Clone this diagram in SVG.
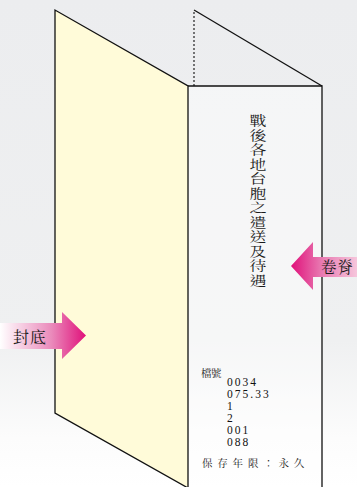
<svg xmlns="http://www.w3.org/2000/svg" width="357" height="487" viewBox="0 0 357 487">
  <defs>
    <linearGradient id="bg" x1="0" y1="0" x2="0" y2="1">
      <stop offset="0" stop-color="#ecedef"/>
      <stop offset="0.7" stop-color="#eff0f1"/>
      <stop offset="0.9" stop-color="#fcfcfc"/>
      <stop offset="1" stop-color="#ffffff"/>
    </linearGradient>
    <linearGradient id="gradLeft" gradientUnits="userSpaceOnUse" x1="0" y1="0" x2="86" y2="0">
      <stop offset="0" stop-color="#ffffff"/>
      <stop offset="0.6" stop-color="#ea8abb"/>
      <stop offset="1" stop-color="#e0107a"/>
    </linearGradient>
    <linearGradient id="gradRight" gradientUnits="userSpaceOnUse" x1="291" y1="0" x2="357" y2="0">
      <stop offset="0" stop-color="#e0107a"/>
      <stop offset="0.45" stop-color="#e877b0"/>
      <stop offset="1" stop-color="#f6c6dc"/>
    </linearGradient>
    <style>
      .edge { fill: none; stroke: #111; stroke-width: 1.3; stroke-linejoin: miter; }
      .dot { fill: none; stroke: #222; stroke-width: 1.2; stroke-dasharray: 2 2; }
      .cjk { font-family: "Noto Serif CJK TC", "Noto Sans CJK TC", serif; fill: #1a1a1a; }
      .num { font-family: "Liberation Serif", serif; font-size: 11.5px; letter-spacing: 2px; fill: #111; }
    </style>
  </defs>

  <rect x="0" y="0" width="357" height="487" fill="url(#bg)"/>

  <g id="spine">
    <polyline class="dot" points="194,86 194,10"/>
    <line class="edge" x1="194" y1="10" x2="322" y2="86"/>
    <rect x="188" y="86" width="134" height="405" fill="#ffffff" fill-opacity="0.45"/>
    <polyline class="edge" points="188,86 322,86 322,488"/>
    <text class="cjk" x="258" y="114" font-size="13" letter-spacing="1.5" writing-mode="vertical-rl" transform="translate(258,0) scale(1.3,1) translate(-258,0)">戰後各地台胞之遣送及待遇</text>
    <text class="cjk" x="201" y="377" font-size="10.5" letter-spacing="-0.5">檔號</text>
    <text class="num" x="227" y="386">0034</text>
    <text class="num" x="227" y="397.5">075.33</text>
    <text class="num" x="227" y="410">1</text>
    <text class="num" x="227" y="422">2</text>
    <text class="num" x="227" y="434">001</text>
    <text class="num" x="227" y="446">088</text>
    <text class="cjk" x="202" y="467" font-size="10.5" letter-spacing="4.8">保存年限：永久</text>
  </g>

  <g id="back-cover">
    <polygon points="55,10 188,86 188,488 187,487 55,413" fill="#fffbd9"/>
    <polyline class="edge" points="188,488 55,413 55,10 188,86 188,488"/>
  </g>

  <g id="label-back-cover">
    <polygon points="0,323 62,323 62,312 86,335.5 62,359 62,349 0,349" fill="url(#gradLeft)"/>
    <text class="cjk" x="13" y="343" font-size="16" letter-spacing="1">封底</text>
  </g>

  <g id="label-spine">
    <polygon points="291,266 313,242 313,257 357,257 357,277 313,277 313,290" fill="url(#gradRight)"/>
    <text class="cjk" x="321" y="273" font-size="15.5" letter-spacing="1">卷脊</text>
  </g>
</svg>
